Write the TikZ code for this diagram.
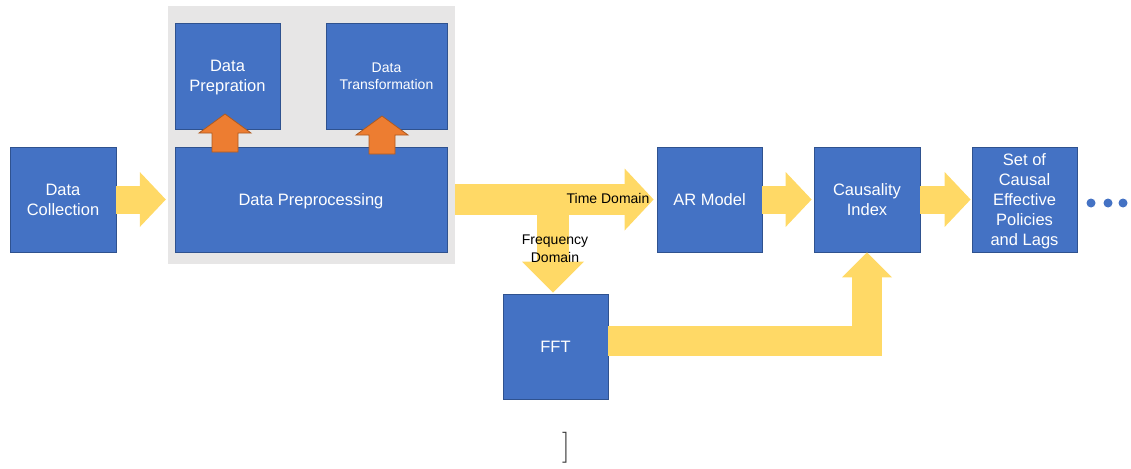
\documentclass[tikz,border=0pt]{standalone}
\usepackage{fontspec}
\setsansfont{Liberation Sans}
\usetikzlibrary{arrows.meta,calc}
\definecolor{boxblue}{HTML}{4472C4}
\definecolor{boxedge}{HTML}{2F528F}
\definecolor{flowyellow}{HTML}{FFD966}
\definecolor{upor}{HTML}{ED7D31}
\definecolor{upedge}{HTML}{AE5A21}
\definecolor{panelgray}{HTML}{E7E6E6}
\tikzset{
  bluebox/.style={draw=boxedge, line width=0.8pt, fill=boxblue, text=white,
    font=\sffamily\fontsize{16.5}{20}\selectfont, align=center, inner sep=2pt, text depth=-1pt},
  yarr/.style={draw=flowyellow, line join=miter},
  oarr/.style={fill=upor, draw=upedge, line width=0.8pt, line join=miter},
  lbl/.style={text=black, font=\sffamily\fontsize{14}{18}\selectfont, align=center, inner sep=0pt},
  dotnode/.style={circle, fill=boxblue, minimum size=9pt, inner sep=0pt}
}
\begin{document}
\begin{tikzpicture}[x=1pt,y=-1pt]
\useasboundingbox (0,0) rectangle (1131,468);
% panel
\node[fill=panelgray, minimum width=287pt, minimum height=258pt, inner sep=0pt] (gray) at (311.5,135) {};
% boxes
\node[bluebox, minimum width=106pt, minimum height=105pt] (coll) at (63,199.5) {Data\\Collection};
\node[bluebox, minimum width=105pt, minimum height=106pt] (prep) at (227.5,76) {Data\\Prepration};
\node[bluebox, minimum width=121pt, minimum height=106pt, font=\sffamily\fontsize{14}{17}\selectfont] (trans) at (386.5,76) {Data\\Transformation};
\node[bluebox, minimum width=272pt, minimum height=105pt] (pp) at (311,199.5) {Data Preprocessing};
\node[bluebox, minimum width=105pt, minimum height=105pt] (ar) at (709.5,199.5) {AR Model};
\node[bluebox, minimum width=106pt, minimum height=105pt] (ci) at (867,199.5) {Causality\\Index};
\node[bluebox, minimum width=105pt, minimum height=105pt] (set) at (1024.5,199.5) {Set of\\Causal\\Effective\\Policies\\and Lags};
\node[bluebox, minimum width=105pt, minimum height=105pt] (fft) at (555.5,346.5) {FFT};
% orange up arrows
\draw[oarr] (212,152) -- (212,133) -- (199,133) -- (225,114) -- (251,133) -- (238,133) -- (238,152) -- cycle;
\draw[oarr] (369,154) -- (369,135) -- (356,135) -- (382,116) -- (408,135) -- (395,135) -- (395,154) -- cycle;
% yellow flow arrows
\draw[yarr, line width=28pt, -{Triangle[width=55pt,length=26pt,line width=0pt]}, shorten >=2pt] (coll.east) -- (coll.east -| gray.west);
\coordinate (split) at (553,199.5);
\draw[yarr, line width=32pt, -{Triangle[width=62pt,length=31pt,line width=0pt]}, shorten >=1pt] (split) -- (split |- fft.north);
\draw[yarr, line width=31pt, -{Triangle[width=62pt,length=29pt,line width=0pt]}, shorten >=3pt] (ar.west -| gray.east) -- (ar.west);
\draw[yarr, line width=28pt, -{Triangle[width=55pt,length=26pt,line width=0pt]}, shorten >=2pt] (ar.east) -- (ci.west);
\draw[yarr, line width=28pt, -{Triangle[width=55pt,length=26pt,line width=0pt]}, shorten >=1pt] (ci.east) -- (set.west);
\draw[yarr, line width=30pt, -{Triangle[width=50pt,length=25pt,line width=0pt]}] ([yshift=5.5pt]fft.east) -| (ci.south);
% labels
\node[lbl] (tdom) at (608,198) {Time Domain};
\node[lbl] (fdom) at (555,249) {Frequency\\Domain};
% dots
\node[dotnode] (dot1) at (1091,203) {};
\node[dotnode] (dot2) at (1108,203) {};
\node[dotnode] (dot3) at (1123,203) {};
% stray bracket
\node[text=black!80, font=\rmfamily\fontsize{31}{31}\selectfont, inner sep=0pt] (brk) at (566,447.5) {]};
\end{tikzpicture}
\end{document}
